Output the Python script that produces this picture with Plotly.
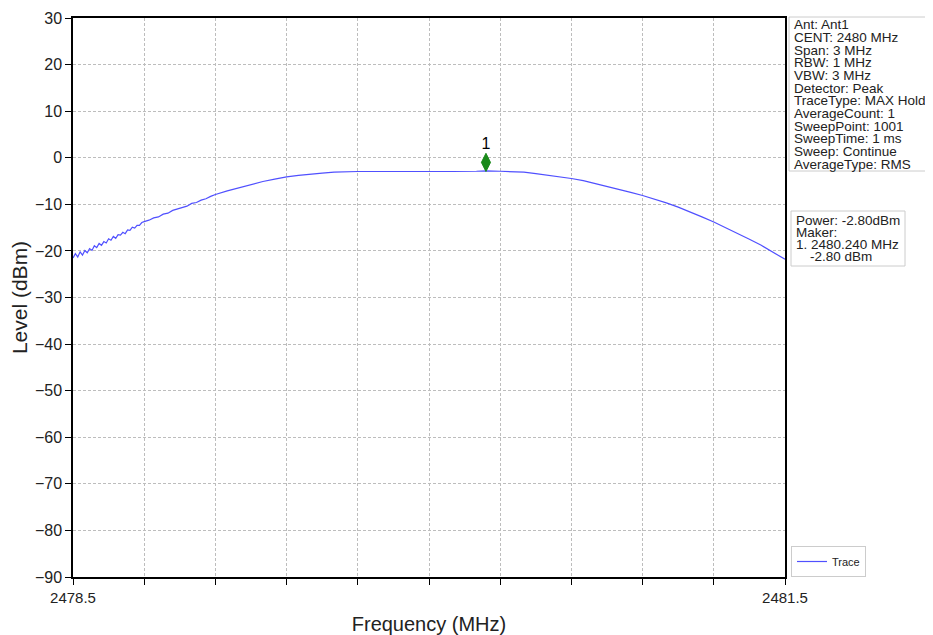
import plotly.graph_objects as go

# ---- data ----
freq_mhz = [
    2478.50, 2478.51, 2478.52, 2478.53, 2478.54, 2478.55, 2478.56, 2478.57, 2478.58, 2478.59,
    2478.60, 2478.61, 2478.62, 2478.63, 2478.64, 2478.65, 2478.66, 2478.67, 2478.68, 2478.69,
    2478.70, 2478.71, 2478.72, 2478.73, 2478.74, 2478.75, 2478.76, 2478.77, 2478.78, 2478.79,
    2478.80, 2478.82, 2478.84, 2478.86, 2478.88, 2478.90, 2478.92, 2478.94, 2478.96, 2478.98,
    2479.00, 2479.02, 2479.04, 2479.06, 2479.08, 2479.10, 2479.15, 2479.20, 2479.25, 2479.30,
    2479.35, 2479.40, 2479.45, 2479.50, 2479.55, 2479.60, 2479.65, 2479.70, 2479.80, 2479.90,
    2480.00, 2480.10, 2480.20, 2480.24, 2480.30, 2480.35, 2480.40, 2480.45, 2480.50, 2480.55,
    2480.60, 2480.65, 2480.70, 2480.75, 2480.80, 2480.85, 2480.90, 2480.95, 2481.00, 2481.05,
    2481.10, 2481.15, 2481.20, 2481.25, 2481.30, 2481.35, 2481.40, 2481.45, 2481.50,
]
level_dbm = [
    -21.5, -20.6, -21.3, -20.2, -20.9, -19.9, -20.4, -19.5, -19.9, -18.9,
    -19.3, -18.4, -18.8, -18.0, -18.3, -17.4, -17.7, -16.9, -17.3, -16.5,
    -16.6, -16.0, -16.3, -15.5, -15.6, -14.9, -15.1, -14.5, -14.5, -13.9,
    -13.7, -13.4, -12.9, -12.7, -12.1, -11.9, -11.3, -11.0, -10.6, -10.4,
    -9.8, -9.6, -9.1, -8.8, -8.3, -7.9, -7.1, -6.4, -5.8, -5.1,
    -4.6, -4.1, -3.8, -3.5, -3.3, -3.1, -3.0, -2.95, -2.95, -3.0,
    -2.9, -2.95, -2.9, -2.8, -2.9, -2.95, -3.1, -3.4, -3.7, -4.0,
    -4.45, -4.9, -5.5, -6.15, -6.8, -7.45, -8.1, -8.85, -9.7, -10.6,
    -11.6, -12.7, -13.8, -15.0, -16.2, -17.5, -18.8, -20.3, -21.8,
]
marker_freq = [2480.24]
marker_level = [-1.0]
marker_label = ["1"]

x_tickvals = [2478.5, 2478.8, 2479.1, 2479.4, 2479.7, 2480.0, 2480.3, 2480.6, 2480.9, 2481.2, 2481.5]
x_ticktext = ["2478.5", "", "", "", "", "", "", "", "", "", "2481.5"]
y_tickvals = [30, 20, 10, 0, -10, -20, -30, -40, -50, -60, -70, -80, -90]

info_lines = [
    "Ant: Ant1", "CENT: 2480 MHz", "Span: 3 MHz", "RBW: 1 MHz", "VBW: 3 MHz",
    "Detector: Peak", "TraceType: MAX Hold", "AverageCount: 1", "SweepPoint: 1001",
    "SweepTime: 1 ms", "Sweep: Continue", "AverageType: RMS",
]
power_lines = ["Power: -2.80dBm", "Maker:", "1. 2480.240 MHz", "    -2.80 dBm"]

FONT = "Liberation Sans, Arial, sans-serif"
OFF = 8  # page body margin offset of the rendered figure
W, H = 933, 635
# target plot box in screen pixels: x 73..785, y 18..577
ML, MT = 73 - OFF, 18 - OFF
MR = W - (785 - OFF)
MB = H - (577 - OFF)
PW, PH = W - ML - MR, H - MT - MB

def px2paper_x(px):  # screen px -> paper
    return (px - OFF - ML) / PW

def py2paper_y(py):
    return (H - MB - (py - OFF)) / PH

fig = go.Figure()
fig.add_trace(go.Scatter(
    x=freq_mhz, y=level_dbm, mode="lines", name="Trace",
    line=dict(color="rgb(80,80,255)", width=1.2),
))
fig.add_trace(go.Scatter(
    x=marker_freq, y=marker_level, mode="markers+text", text=marker_label,
    textposition="top center", textfont=dict(size=16, color="black", family=FONT),
    marker=dict(symbol="diamond-tall", size=13, color="#1a8a1a",
                line=dict(color="#1a8a1a", width=1)),
    showlegend=False, cliponaxis=False,
))

shapes = []
annotations = []

# info box
bx0, bx1, by0, by1 = 789, 931, 17, 171
shapes.append(dict(type="rect", xref="paper", yref="paper",
                   x0=px2paper_x(bx0), x1=px2paper_x(bx1),
                   y0=py2paper_y(by1), y1=py2paper_y(by0),
                   line=dict(color="#cccccc", width=1), fillcolor="white"))
for i, t in enumerate(info_lines):
    annotations.append(dict(text=t, xref="paper", yref="paper",
                            x=px2paper_x(792), y=py2paper_y(25 + i * 12.65),
                            xanchor="left", yanchor="middle", showarrow=False,
                            font=dict(family=FONT, size=13.5, color="#222222")))

# power box
px0, px1, py0, py1 = 791, 905, 211, 266
shapes.append(dict(type="rect", xref="paper", yref="paper",
                   x0=px2paper_x(px0), x1=px2paper_x(px1),
                   y0=py2paper_y(py1), y1=py2paper_y(py0),
                   line=dict(color="#cccccc", width=1), fillcolor="white"))
for i, t in enumerate(power_lines):
    xoff = 808 if t.startswith(" ") else 794
    annotations.append(dict(text=t.strip(), xref="paper", yref="paper",
                            x=px2paper_x(xoff), y=py2paper_y(220 + i * 12.2),
                            xanchor="left", yanchor="middle", showarrow=False,
                            font=dict(family=FONT, size=13.5, color="#222222")))

fig.update_layout(
    width=W, height=H,
    margin=dict(l=ML, r=MR, t=MT, b=MB, autoexpand=False),
    paper_bgcolor="white", plot_bgcolor="white",
    font=dict(family=FONT, color="#222222"),
    shapes=shapes, annotations=annotations,
    showlegend=True,
    legend=dict(x=px2paper_x(791), y=0, xanchor="left", yanchor="bottom",
                bgcolor="white", bordercolor="#cccccc", borderwidth=1,
                font=dict(family=FONT, size=11, color="#222222"),
                itemwidth=30, tracegroupgap=0),
)
fig.update_xaxes(
    range=[2478.5, 2481.5], tickvals=x_tickvals, ticktext=x_ticktext,
    ticks="outside", ticklen=6, tickcolor="black", tickwidth=1,
    showline=True, linecolor="black", linewidth=1.5, mirror=True,
    showgrid=True, gridcolor="#bdbdbd", griddash="3px,2px", gridwidth=1,
    zeroline=False, automargin=False,
    tickfont=dict(family=FONT, size=15, color="#222222"),
    title=dict(text="Frequency (MHz)", font=dict(family=FONT, size=20, color="#222222"), standoff=12),
)
fig.update_yaxes(
    range=[-90, 30], tickvals=y_tickvals,
    ticks="outside", ticklen=6, tickcolor="black", tickwidth=1,
    showline=True, linecolor="black", linewidth=1.5, mirror=True,
    showgrid=True, gridcolor="#bdbdbd", griddash="3px,2px", gridwidth=1,
    zeroline=False, automargin=False,
    tickfont=dict(family=FONT, size=16, color="#222222"),
    title=dict(text="Level (dBm)", font=dict(family=FONT, size=21, color="#222222"), standoff=3),
)

fig.write_html("out.html")
